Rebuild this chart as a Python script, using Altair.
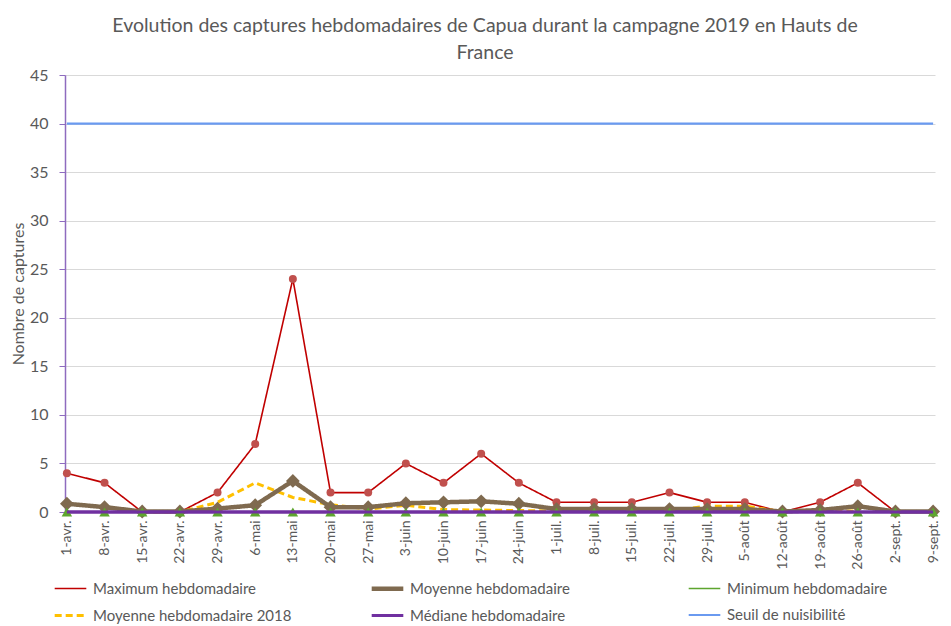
import altair as alt
import pandas as pd

dates = ["1-avr.", "8-avr.", "15-avr.", "22-avr.", "29-avr.", "6-mai", "13-mai", "20-mai",
         "27-mai", "3-juin", "10-juin", "17-juin", "24-juin", "1-juil.", "8-juil.", "15-juil.",
         "22-juil.", "29-juil.", "5-août", "12-août", "19-août", "26-août", "2-sept.", "9-sept."]

maximum = [4, 3, 0, 0, 2, 7, 24, 2, 2, 5, 3, 6, 3, 1, 1, 1, 2, 1, 1, 0, 1, 3, 0, 0]
moyenne = [0.85, 0.5, 0.05, 0.05, 0.35, 0.7, 3.2, 0.5, 0.5, 0.9, 1.0, 1.1, 0.85, 0.3, 0.3, 0.3,
           0.3, 0.3, 0.3, 0.05, 0.2, 0.6, 0.05, 0.05]
minimum = [0] * 24
moyenne_2018 = [None, None, 0, 0, 1.0, 3.0, 1.5, 0.75, 0.3, 0.7, 0.25, 0.2, 0.15, 0.1, 0.1, 0.1,
                0.1, 0.6, 0.6, 0.05, 0.1, 0.1, None, None]
mediane = [0] * 24
seuil = [40] * 24

# order chosen so the 3-column legend reads row by row like the reference
series = ["Maximum hebdomadaire", "Moyenne hebdomadaire 2018", "Moyenne hebdomadaire",
          "Médiane hebdomadaire", "Minimum hebdomadaire", "Seuil de nuisibilité"]
values = [maximum, moyenne_2018, moyenne, mediane, minimum, seuil]
line_colors = ["#C00000", "#FFC000", "#7F6A4F", "#7030A0", "#5DA52E", "#6A9AF0"]
dashes = [[1, 0], [7, 4], [1, 0], [1, 0], [1, 0], [1, 0]]
widths = [1.6, 3, 4.5, 3, 1.5, 2.2]

rows = []
for s, vals in zip(series, values):
    for d, v in zip(dates, vals):
        if v is not None:
            rows.append({"date": d, "value": v, "serie": s})
df_lines = pd.DataFrame(rows)
df_median = pd.DataFrame({"date": dates, "value": mediane})

marker_series = ["Maximum hebdomadaire", "Moyenne hebdomadaire", "Minimum hebdomadaire"]
marker_vals = [maximum, moyenne, minimum]
marker_fill = ["#C0504D", "#7F6A4F", "#5DA52E"]
marker_shape = ["circle", "diamond", "triangle-up"]
marker_size = [64, 190, 110]
prow = []
for s, vals, c, sh, sz in zip(marker_series, marker_vals, marker_fill, marker_shape, marker_size):
    for d, v in zip(dates, vals):
        prow.append({"date": d, "value": v, "serie": s, "fillc": c, "shp": sh, "sz": sz})
df_pts = pd.DataFrame(prow)

FONT = "Lato"
GREY = "#595959"

x_enc = alt.X("date:N", sort=dates,
              scale=alt.Scale(type="point", domain=dates, padding=0.05),
              axis=alt.Axis(title=None, labelAngle=-90, labelFontSize=14, labelFont=FONT,
                            labelColor=GREY, ticks=False, domain=False, grid=False,
                            labelPadding=8, labelBaseline="middle"))
y_enc = alt.Y("value:Q", scale=alt.Scale(domain=[0, 45], nice=False),
              axis=alt.Axis(title="Nombre de captures", values=list(range(0, 50, 5)),
                            titleFontSize=16, titleFont=FONT, titleColor=GREY,
                            titleFontWeight="normal", titlePadding=3,
                            labelFontSize=16, labelFont=FONT, labelColor=GREY,
                            labelPadding=11, tickSize=6, tickColor="#8E6BBF",
                            domainColor="#8E6BBF", domainWidth=1.5,
                            gridColor="#D9D9D9", gridWidth=1))

leg = alt.Legend(title=None, orient="none", legendX=-13, legendY=495, columns=3,
                 symbolType="stroke", symbolSize=1000, labelFontSize=15, labelFont=FONT,
                 labelColor=GREY, gridAlign="all", columnPadding=70, rowPadding=-6,
                 labelOffset=4, labelLimit=400)

lines = alt.Chart(df_lines).mark_line().encode(
    x=x_enc,
    y=y_enc,
    color=alt.Color("serie:N", scale=alt.Scale(domain=series, range=line_colors), legend=leg),
    strokeDash=alt.StrokeDash("serie:N", scale=alt.Scale(domain=series, range=dashes), legend=leg),
    strokeWidth=alt.StrokeWidth("serie:N", scale=alt.Scale(type="ordinal", domain=series, range=widths),
                                legend=leg),
)

points = alt.Chart(df_pts).mark_point(filled=True, opacity=1).encode(
    x=alt.X("date:N", sort=dates),
    y=alt.Y("value:Q"),
    fill=alt.Fill("fillc:N", scale=None),
    shape=alt.Shape("shp:N", scale=None),
    size=alt.Size("sz:Q", scale=None),
)

median_top = alt.Chart(df_median).mark_line(color="#7030A0", strokeWidth=3).encode(
    x=alt.X("date:N", sort=dates),
    y=alt.Y("value:Q"),
)

chart = alt.layer(lines, points, median_top).properties(
    width=870, height=437,
    padding={"left": 57, "top": 67, "right": 8, "bottom": 114},
    autosize=alt.AutoSizeParams(type="none"),
    title=alt.Title(["Evolution des captures hebdomadaires de Capua durant la  campagne 2019 en Hauts de",
                     "France"], fontSize=19.5, font=FONT, color=GREY, fontWeight="normal",
                    lineHeight=27, offset=4, dx=-15),
).configure_view(stroke=None)

chart.save("out.html", embed_options={"renderer": "svg", "actions": False})
